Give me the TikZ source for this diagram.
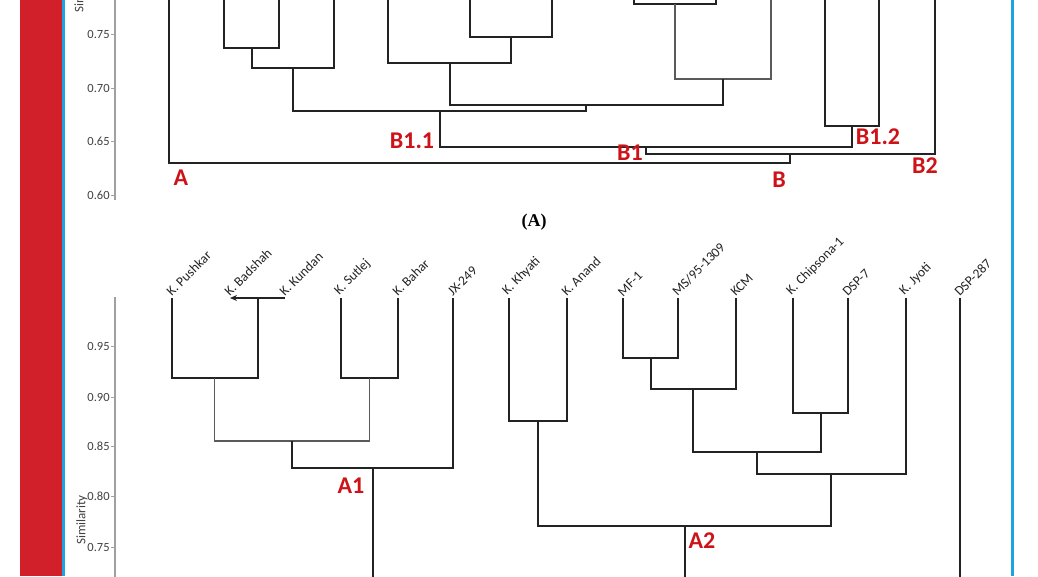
\documentclass[tikz,border=0pt]{standalone}
\usepackage{fontspec}
\setmainfont{Carlito}
\newfontfamily\capfont{Liberation Serif}
\usepackage{color}
\definecolor{myred}{RGB}{210,32,42}
\definecolor{myblue}{RGB}{28,164,226}
\definecolor{mylabelred}{RGB}{205,18,24}
\definecolor{myaxis}{RGB}{160,160,160}
\definecolor{mydark}{RGB}{35,35,35}
\definecolor{mytext}{RGB}{65,65,65}
\usepackage{tikz}
\usetikzlibrary{calc,arrows.meta,positioning}
\tikzstyle{branch}=[draw=mydark,line width=2pt]
\tikzstyle{thinbranch}=[draw=mydark!75,line width=1.2pt]
% U-shaped join of two branches at height #4, joint named #5
\newcommand{\dmerge}[5][branch]{%
  \draw[#1] (#2) -- (#2 |- 0,#4) -- (#3 |- 0,#4) -- (#3);
  \coordinate (#5) at ($(#2 |- 0,#4)!0.5!(#3 |- 0,#4)$);}

\begin{document}
\begin{tikzpicture}[
  x=1pt, y=-1pt,
  axis/.style={draw=myaxis,line width=1.3pt},
  tick/.style={left,inner sep=1pt,text=mytext,font=\fontsize{12.5}{12.5}\selectfont},
  axlabel/.style={rotate=90,text=mytext,font=\fontsize{13}{13}\selectfont},
  leaf/.style={anchor=south west,rotate=45,inner sep=0.5pt,text=mydark,
    font=\fontsize{13.5}{13.5}\selectfont},
  grp/.style={text=mylabelred,font=\fontsize{24}{24}\selectfont\bfseries,inner sep=0pt}
]
\useasboundingbox (0,0) rectangle (1038,576);
\fill[white] (0,0) rectangle (1038,576);
\fill[myred] (20,0) rectangle (62,576);
\fill[myblue] (62,0) rectangle (65,576);
\fill[myblue] (1011,0) rectangle (1014,576);

% upper dendrogram
\draw[axis] (115,-5) -- (115,200);
\foreach \v/\yy [count=\i] in {0.75/34, 0.70/88, 0.65/141, 0.60/195}
  \draw[axis,line width=0.8pt] (111,\yy) -- (115,\yy) node[tick] (ta\i) at (111,\yy) {\v};
\node[axlabel] (simtop) at (80,-12) {Similarity};

\foreach \name/\xx in {tA/169, t1/224, t2/279, t3/334, t4/388, t5/470, t6/552,
  t7/634, t8/716, t9/771, t10/825, t11/879, t12/935}
  \coordinate (\name) at (\xx,-4);

\dmerge{t1}{t2}{48}{m12}
\dmerge{m12}{t3}{68}{m123}
\dmerge{t5}{t6}{37}{m56}
\dmerge{t4}{m56}{63}{m456}
\dmerge{t7}{t8}{4}{m78}
\dmerge[thinbranch]{m78}{t9}{79}{m789}
\dmerge{m456}{m789}{105}{mid}
\dmerge{m123}{mid}{111}{b11}
\dmerge{t10}{t11}{126}{b12}
\dmerge{b11}{b12}{147}{b1}
\dmerge{b1}{t12}{154}{bB}
\dmerge{tA}{bB}{163}{root}

\node[grp] (gA) at (181,178) {A};
\node[grp] (gB11) at (412,141) {B1.1};
\node[grp] (gB1) at (630,153) {B1};
\node[grp] (gB) at (779,180) {B};
\node[grp] (gB12) at (878,137) {B1.2};
\node[grp] (gB2) at (925,166) {B2};

\node[font=\capfont\bfseries\fontsize{18}{18}\selectfont] (capA) at (534,222) {(A)};

% lower dendrogram
\draw[axis] (115,297) -- (115,580);
\foreach \v/\yy [count=\i] in {0.95/346, 0.90/397, 0.85/446, 0.80/496, 0.75/547}
  \draw[axis,line width=0.8pt] (111,\yy) -- (115,\yy) node[tick] (tb\i) at (111,\yy) {\v};
\node[axlabel] (simbot) at (82,520) {Similarity};

\foreach \name/\xx/\txt in {pushkar/172/K. Pushkar, badshah/230/K. Badshah,
  kundan/285/K. Kundan, sutlej/341/K. Sutlej, bahar/398/K. Bahar, jx/453/JX-249,
  khyati/509/K. Khyati, anand/567/K. Anand, mf/623/MF-1, ms/678/MS\slash 95-1309,
  kcm/736/KCM, chip/793/K. Chipsona-1, dsp7/848/DSP-7, jyoti/906/K. Jyoti,
  dsp287/960/DSP-287}{
  \coordinate (\name) at (\xx,298);
  \node[leaf] (\name-lab) at (\name) {\txt};
}

\draw[branch,-{Stealth[length=7pt,width=6pt]}] (kundan) -- (badshah);
\coordinate (bk) at ($(badshah)!0.5!(kundan)$);
\dmerge{pushkar}{bk}{378}{pbk}
\dmerge{sutlej}{bahar}{378}{sb}
\dmerge[thinbranch]{pbk}{sb}{441}{psb}
\dmerge{psb}{jx}{468}{a1}
\draw[branch] (a1) -- (a1 |- 0,590);

\dmerge{khyati}{anand}{421}{ka}
\dmerge{mf}{ms}{358}{mfms}
\dmerge{mfms}{kcm}{389}{mk}
\dmerge{chip}{dsp7}{413}{cd}
\dmerge{mk}{cd}{452}{mkcd}
\dmerge{mkcd}{jyoti}{474}{mkj}
\dmerge{ka}{mkj}{526}{a2}
\draw[branch] (a2) -- (a2 |- 0,590);
\draw[branch] (dsp287) -- (dsp287 |- 0,590);

\node[grp] (gA1) at (351,486) {A1};
\node[grp] (gA2) at (702,541) {A2};
\end{tikzpicture}
\end{document}
